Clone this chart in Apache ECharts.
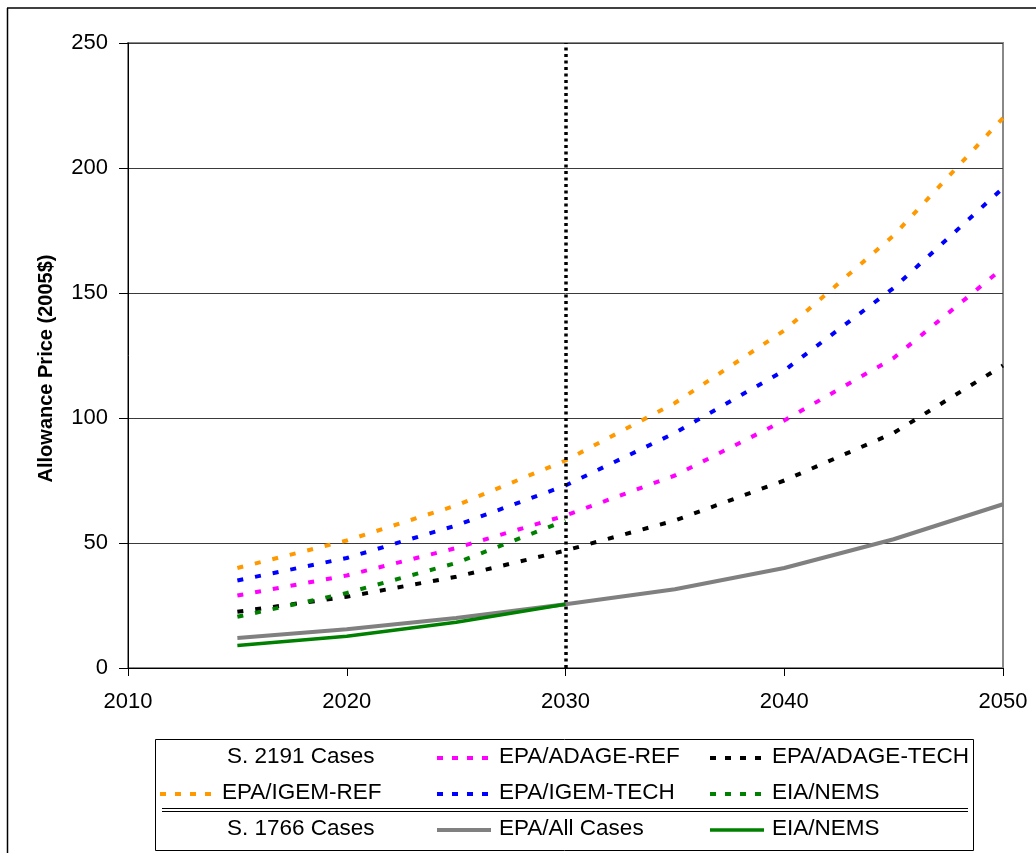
<!DOCTYPE html>
<html>
<head>
<meta charset="utf-8">
<script src="https://cdn.jsdelivr.net/npm/echarts/dist/echarts.min.js"></script>
<style>
  html, body { margin: 0; padding: 0; background: #fff; }
  #chart { width: 1036px; height: 853px; }
</style>
</head>
<body>
<div id="chart"></div>
<script>
// ---- data ----
const years = [2015, 2020, 2025, 2030, 2035, 2040, 2045, 2050];
const yearsShort = [2015, 2020, 2025, 2030];
const igemRef   = [40, 51, 65, 83, 106, 135, 173, 220];
const igemTech  = [35, 44, 57, 73, 94, 119, 152, 192];
const adageRef  = [29, 37, 48, 61, 77, 99, 124, 160];
const adageTech = [22.5, 28.5, 36.5, 47, 59, 75, 94, 121];
const nemsS2191 = [20.5, 30, 42, 59];
const epaAll    = [12, 15.5, 20, 25.5, 31.5, 40, 51.5, 65.5];
const nemsS1766 = [9, 12.7, 18.3, 25.5];
const boundaryYear = 2030;
const xTicks = [2010, 2020, 2030, 2040, 2050];
const yTicks = [0, 50, 100, 150, 200, 250];
const headerS2191 = 'S. 2191 Cases';
const headerS1766 = 'S. 1766 Cases';
const yTitle = 'Allowance Price (2005$)';

const pair = (xs, ys) => xs.map((x, i) => [x, ys[i]]);
const FONT = '"Liberation Sans", Arial, sans-serif';
const DASH = [6, 12];

const seriesDefs = [
  { name: 'EPA/IGEM-REF',   color: '#FF9900', x: years, y: igemRef,   dashed: true },
  { name: 'EPA/IGEM-TECH',  color: '#0000FF', x: years, y: igemTech,  dashed: true },
  { name: 'EPA/ADAGE-REF',  color: '#FF00FF', x: years, y: adageRef,  dashed: true },
  { name: 'EPA/ADAGE-TECH', color: '#000000', x: years, y: adageTech, dashed: true },
  { name: 'EIA/NEMS',       color: '#008000', x: yearsShort, y: nemsS2191, dashed: true },
  { name: 'EPA/All Cases',  color: '#808080', x: years, y: epaAll,    dashed: false, width: 4 },
  { name: 'EIA/NEMS',       color: '#008000', x: yearsShort, y: nemsS1766, dashed: false, width: 3.5 }
];

const series = seriesDefs.map((d, i) => ({
  name: d.name,
  type: 'line',
  data: pair(d.x, d.y),
  symbol: 'none',
  smooth: false,
  silent: true,
  z: 3 + i,
  lineStyle: { color: d.color, width: d.width || 4, type: d.dashed ? DASH : 'solid', cap: 'butt' }
}));
series.push({
  type: 'line',
  data: [],
  silent: true,
  markLine: {
    symbol: 'none',
    silent: true,
    label: { show: false },
    lineStyle: { color: '#000', width: 3.5, type: [3, 3.5] },
    data: [{ xAxis: boundaryYear }]
  },
  z: 2
});

// ---- legend (graphic) ----
const legendRows = [
  [ { text: headerS2191 }, { ref: 2 }, { ref: 3 } ],
  [ { ref: 0 }, { ref: 1 }, { ref: 4 } ],
  [ { text: headerS1766 }, { ref: 5 }, { ref: 6 } ]
];
const colSym = [160, 437, 710];
const rowY = [758, 794, 830];
const LFONT = '22.5px ' + FONT;
const graphic = [];
// outer frame
graphic.push({ type: 'line', shape: { x1: 7, y1: 8, x2: 1036, y2: 8 }, style: { stroke: '#000', lineWidth: 1.5 } });
graphic.push({ type: 'line', shape: { x1: 7.5, y1: 8, x2: 7.5, y2: 853 }, style: { stroke: '#000', lineWidth: 1.5 } });
// legend box
graphic.push({ type: 'rect', shape: { x: 155.5, y: 739.5, width: 818, height: 111 }, style: { fill: '#fff', stroke: '#000', lineWidth: 1 } });
graphic.push({ type: 'line', shape: { x1: 162, y1: 808.5, x2: 968, y2: 808.5 }, style: { stroke: '#000', lineWidth: 1 } });
graphic.push({ type: 'line', shape: { x1: 162, y1: 811.5, x2: 968, y2: 811.5 }, style: { stroke: '#000', lineWidth: 1 } });
legendRows.forEach((row, r) => {
  row.forEach((item, c) => {
    const y = rowY[r];
    if (item.text) {
      graphic.push({ type: 'text', left: 227, top: y - 13,
        style: { text: item.text, font: LFONT, fill: '#000' } });
      return;
    }
    const d = seriesDefs[item.ref];
    const x0 = colSym[c];
    graphic.push({ type: 'line', shape: { x1: x0, y1: y, x2: x0 + 54, y2: y },
      style: { stroke: d.color, lineWidth: d.dashed ? 4 : (d.width || 4), lineDash: d.dashed ? [6, 9] : null } });
    graphic.push({ type: 'text', left: x0 + 62, top: y - 13,
      style: { text: d.name, font: LFONT, fill: '#000' } });
  });
});

const chart = echarts.init(document.getElementById('chart'), null, { renderer: 'canvas' });
chart.setOption({
  backgroundColor: '#fff',
  animation: false,
  textStyle: { fontFamily: FONT },
  grid: { left: 128, right: 33, top: 43, bottom: 185, show: true, borderColor: '#888', borderWidth: 2, backgroundColor: 'transparent' },
  xAxis: {
    type: 'value', min: xTicks[0], max: xTicks[xTicks.length - 1], interval: 10,
    axisLine: { show: true, lineStyle: { color: '#000', width: 1 } },
    axisTick: { show: true, inside: false, length: 8, lineStyle: { color: '#000' } },
    axisLabel: { fontSize: 22, color: '#000', margin: 23, fontFamily: FONT, formatter: v => String(v) },
    splitLine: { show: false }
  },
  yAxis: {
    type: 'value', min: yTicks[0], max: yTicks[yTicks.length - 1], interval: 50,
    name: yTitle, nameLocation: 'middle', nameGap: 72,
    nameTextStyle: { fontSize: 20, fontWeight: 'bold', color: '#000', fontFamily: FONT, padding: [0, 26, 0, 0] },
    axisLine: { show: true, lineStyle: { color: '#000', width: 1 } },
    axisTick: { show: true, inside: false, length: 9, lineStyle: { color: '#000' } },
    axisLabel: { fontSize: 22, color: '#000', margin: 20, fontFamily: FONT, formatter: v => String(v) },
    splitLine: { show: true, lineStyle: { color: '#3a3a3a', width: 1 } }
  },
  series: series,
  graphic: graphic
});
</script>
</body>
</html>
